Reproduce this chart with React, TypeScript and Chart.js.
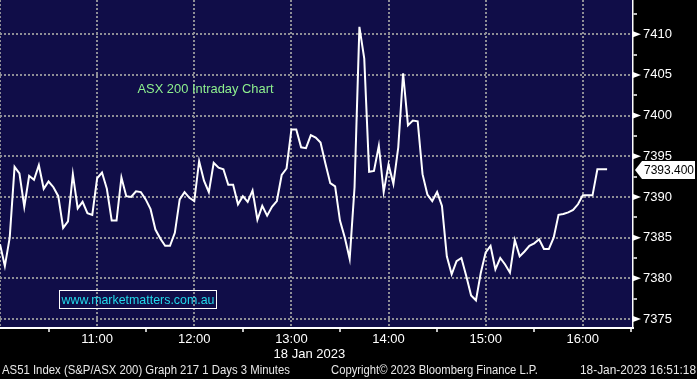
import React, { useEffect, useRef } from 'react';
import { Chart, registerables } from 'chart.js';

Chart.register(...registerables);

// ---------- data ----------
const stepMinutes = 3; // Bloomberg "3 Minutes" bars, first bar at 10:00
const values = [
  7384.2, 7381.5, 7385.0, 7393.7, 7392.9, 7388.8, 7392.6, 7392.1, 7393.9, 7391.0,
  7391.9, 7391.2, 7390.1, 7386.2, 7387.0, 7392.8, 7388.6, 7389.4, 7388.0, 7387.8,
  7392.3, 7393.0, 7391.0, 7387.1, 7387.1, 7392.4, 7390.1, 7390.0, 7390.7, 7390.6,
  7389.7, 7388.5, 7386.0, 7384.9, 7384.0, 7384.0, 7385.6, 7389.7, 7390.6, 7389.9,
  7389.5, 7394.4, 7392.0, 7390.6, 7394.2, 7393.6, 7393.4, 7391.5, 7391.5, 7389.1,
  7390.1, 7389.4, 7390.8, 7387.2, 7388.9, 7387.7, 7388.8, 7389.5, 7392.7, 7393.5,
  7398.3, 7398.3, 7396.1, 7396.0, 7397.6, 7397.3, 7396.7, 7394.1, 7391.7, 7391.3,
  7387.1, 7385.0, 7382.4, 7391.2, 7410.9, 7407.0, 7393.1, 7393.2, 7396.3, 7390.6,
  7394.0, 7391.6, 7396.1, 7405.2, 7398.8, 7399.4, 7399.3, 7392.8, 7390.3, 7389.5,
  7390.6, 7388.9, 7382.7, 7380.5, 7382.1, 7382.5, 7380.3, 7377.9, 7377.3, 7380.7,
  7383.2, 7384.0, 7381.1, 7382.5, 7381.7, 7380.7, 7384.7, 7382.7, 7383.3, 7384.0,
  7384.3, 7384.8, 7383.6, 7383.6, 7385.0, 7387.8, 7387.9, 7388.1, 7388.4, 7389.1,
  7390.2, 7390.2, 7390.2, 7393.4, 7393.4, 7393.4,
];

const hourTicks = [0, 60, 120, 180, 240, 300, 360]; // minutes after 10:00
const hourTickLabels = ['', '11:00', '12:00', '13:00', '14:00', '15:00', '16:00'];
const halfHourTicks = [30, 90, 150, 210, 270, 330, 390];
const xMin = 0;
const xMax = 391;

const yMajorTicks = [7375, 7380, 7385, 7390, 7395, 7400, 7405, 7410];
const yMinorTicks = [7377.5, 7382.5, 7387.5, 7392.5, 7397.5, 7402.5, 7407.5, 7412.5];
const yMin = 7373.9;
const yMax = 7414.2;

const chartTitle = 'ASX 200 Intraday Chart';
const watermark = 'www.marketmatters.com.au';
const dateLabel = '18 Jan 2023';
const footerLeft = 'AS51 Index (S&P/ASX 200) Graph 217 1 Days 3 Minutes';
const footerMid = 'Copyright\u00A9 2023 Bloomberg Finance L.P.';
const footerRight = '18-Jan-2023 16:51:18';

// ---------- styles ----------
const W = 697;
const H = 379;
const NAVY = '#100d48';
const GRID = '#8e8e96';
const FONT = "'Liberation Sans', Arial, sans-serif";
const TRANSPARENT = 'rgba(0,0,0,0)';

const decorPlugin = {
  id: 'decor',
  beforeDraw(chart: any) {
    const { ctx, chartArea: a } = chart;
    ctx.save();
    ctx.fillStyle = '#000';
    ctx.fillRect(0, 0, chart.width, chart.height);
    ctx.fillStyle = NAVY;
    ctx.fillRect(a.left, a.top, a.right - a.left, a.bottom - a.top);
    ctx.restore();
  },
  beforeDatasetsDraw(chart: any) {
    const { ctx } = chart;
    ctx.save();
    ctx.textBaseline = 'middle';
    ctx.textAlign = 'center';
    ctx.font = `13px ${FONT}`;
    ctx.fillStyle = '#8ef08e';
    ctx.fillText(chartTitle, 205.5, 89, 136);
    // watermark box
    ctx.strokeStyle = '#ffffff';
    ctx.lineWidth = 1;
    ctx.strokeRect(59.5, 290.5, 157, 18);
    ctx.fillStyle = '#22d8ea';
    ctx.fillText(watermark, 138, 300, 153);
    ctx.restore();
  },
  afterDraw(chart: any) {
    const { ctx } = chart;
    const ys = chart.scales.y;
    const xs = chart.scales.x;
    const axisX = ys.left;
    ctx.save();
    // major triangles on the right axis
    ctx.fillStyle = '#ffffff';
    yMajorTicks.forEach((v) => {
      const py = ys.getPixelForValue(v);
      ctx.beginPath();
      ctx.moveTo(axisX, py - 3);
      ctx.lineTo(axisX + 8, py);
      ctx.lineTo(axisX, py + 3);
      ctx.closePath();
      ctx.fill();
    });
    // last value label
    const last = values[values.length - 1];
    const ly = Math.round(ys.getPixelForValue(last)) + 1;
    ctx.beginPath();
    ctx.moveTo(axisX + 2, ly);
    ctx.lineTo(axisX + 9, ly - 9);
    ctx.lineTo(W - 2, ly - 9);
    ctx.lineTo(W - 2, ly + 9);
    ctx.lineTo(axisX + 9, ly + 9);
    ctx.closePath();
    ctx.fillStyle = '#ffffff';
    ctx.fill();
    ctx.fillStyle = '#000000';
    ctx.font = `12px ${FONT}`;
    ctx.textBaseline = 'middle';
    ctx.textAlign = 'left';
    ctx.fillText(last.toFixed(3), axisX + 11, ly + 0.5, 50);
    // date under axis
    ctx.fillStyle = '#ffffff';
    ctx.font = `13px ${FONT}`;
    ctx.textAlign = 'center';
    ctx.fillText(dateLabel, xs.getPixelForValue(180) + 18, 354);
    // footer
    ctx.font = `12px ${FONT}`;
    ctx.fillStyle = '#e8e8e8';
    ctx.textAlign = 'left';
    ctx.fillText(footerLeft, 2, 371, 288);
    ctx.fillText(footerMid, 331, 371, 207);
    ctx.fillText(footerRight, 580, 371, 116);
    ctx.restore();
  },
};

export default function App() {
  const ref = useRef<HTMLCanvasElement | null>(null);

  useEffect(() => {
    document.body.style.margin = '0';
    document.body.style.background = '#000';
    const canvas = ref.current;
    if (!canvas) return;
    const data = values.map((v, i) => ({ x: i * stepMinutes, y: v }));
    const allX = [...hourTicks, ...halfHourTicks].sort((a, b) => a - b);
    const allY = [...yMajorTicks, ...yMinorTicks].sort((a, b) => a - b);
    const isHour = (v: number) => hourTicks.includes(v);
    const isMajorY = (v: number) => yMajorTicks.includes(v);

    const chart = new Chart(canvas, {
      type: 'line',
      data: {
        datasets: [
          {
            data,
            borderColor: '#ffffff',
            borderWidth: 2,
            pointRadius: 0,
            tension: 0,
            fill: false,
          },
        ],
      },
      options: {
        animation: false,
        responsive: false,
        devicePixelRatio: 1,
        layout: { padding: 0 },
        plugins: { legend: { display: false }, tooltip: { enabled: false }, title: { display: false } },
        scales: {
          x: {
            type: 'linear',
            position: 'bottom',
            min: xMin,
            max: xMax,
            afterBuildTicks: (s: any) => {
              s.ticks = allX.map((v) => ({ value: v }));
            },
            afterFit: (s: any) => {
              s.height = 51;
              s.paddingLeft = 0;
              s.paddingRight = 0;
            },
            ticks: {
              autoSkip: false,
              maxRotation: 0,
              padding: 0,
              color: '#ffffff',
              font: { family: FONT, size: 13 },
              callback: (v: any) => {
                const i = hourTicks.indexOf(Number(v));
                return i >= 0 ? hourTickLabels[i] : '';
              },
            },
            grid: {
              color: (c: any) => (c.tick && isHour(c.tick.value) ? GRID : TRANSPARENT),
              lineWidth: 2,
              drawTicks: true,
              tickLength: 4,
              tickWidth: 1.5,
              tickColor: (c: any) => (c.tick && !isHour(c.tick.value) ? '#ffffff' : TRANSPARENT),
            },
            border: { display: true, color: '#ffffff', width: 2, dash: [2, 2] },
          },
          y: {
            type: 'linear',
            position: 'right',
            min: yMin,
            max: yMax,
            afterBuildTicks: (s: any) => {
              s.ticks = allY.map((v) => ({ value: v }));
            },
            afterFit: (s: any) => {
              s.width = 64;
              s.paddingTop = 0;
              s.paddingBottom = 0;
            },
            ticks: {
              autoSkip: false,
              padding: 6,
              color: '#ffffff',
              font: { family: FONT, size: 13 },
              callback: (v: any) => (isMajorY(Number(v)) ? String(v) : ''),
            },
            grid: {
              color: (c: any) => (c.tick && isMajorY(c.tick.value) ? GRID : TRANSPARENT),
              lineWidth: 2,
              drawTicks: true,
              tickLength: 4,
              tickWidth: 1.5,
              tickColor: (c: any) => (c.tick && !isMajorY(c.tick.value) ? '#ffffff' : TRANSPARENT),
            },
            border: { display: true, color: '#ffffff', width: 1.5, dash: [2, 2] },
          },
        },
      },
      plugins: [decorPlugin],
    } as any);
    return () => chart.destroy();
  }, []);

  return (
    <div style={{ position: 'absolute', left: 0, top: 0, width: W, height: H, background: '#000' }}>
      <canvas ref={ref} width={W} height={H} style={{ display: 'block', width: W, height: H }} />
    </div>
  );
}
